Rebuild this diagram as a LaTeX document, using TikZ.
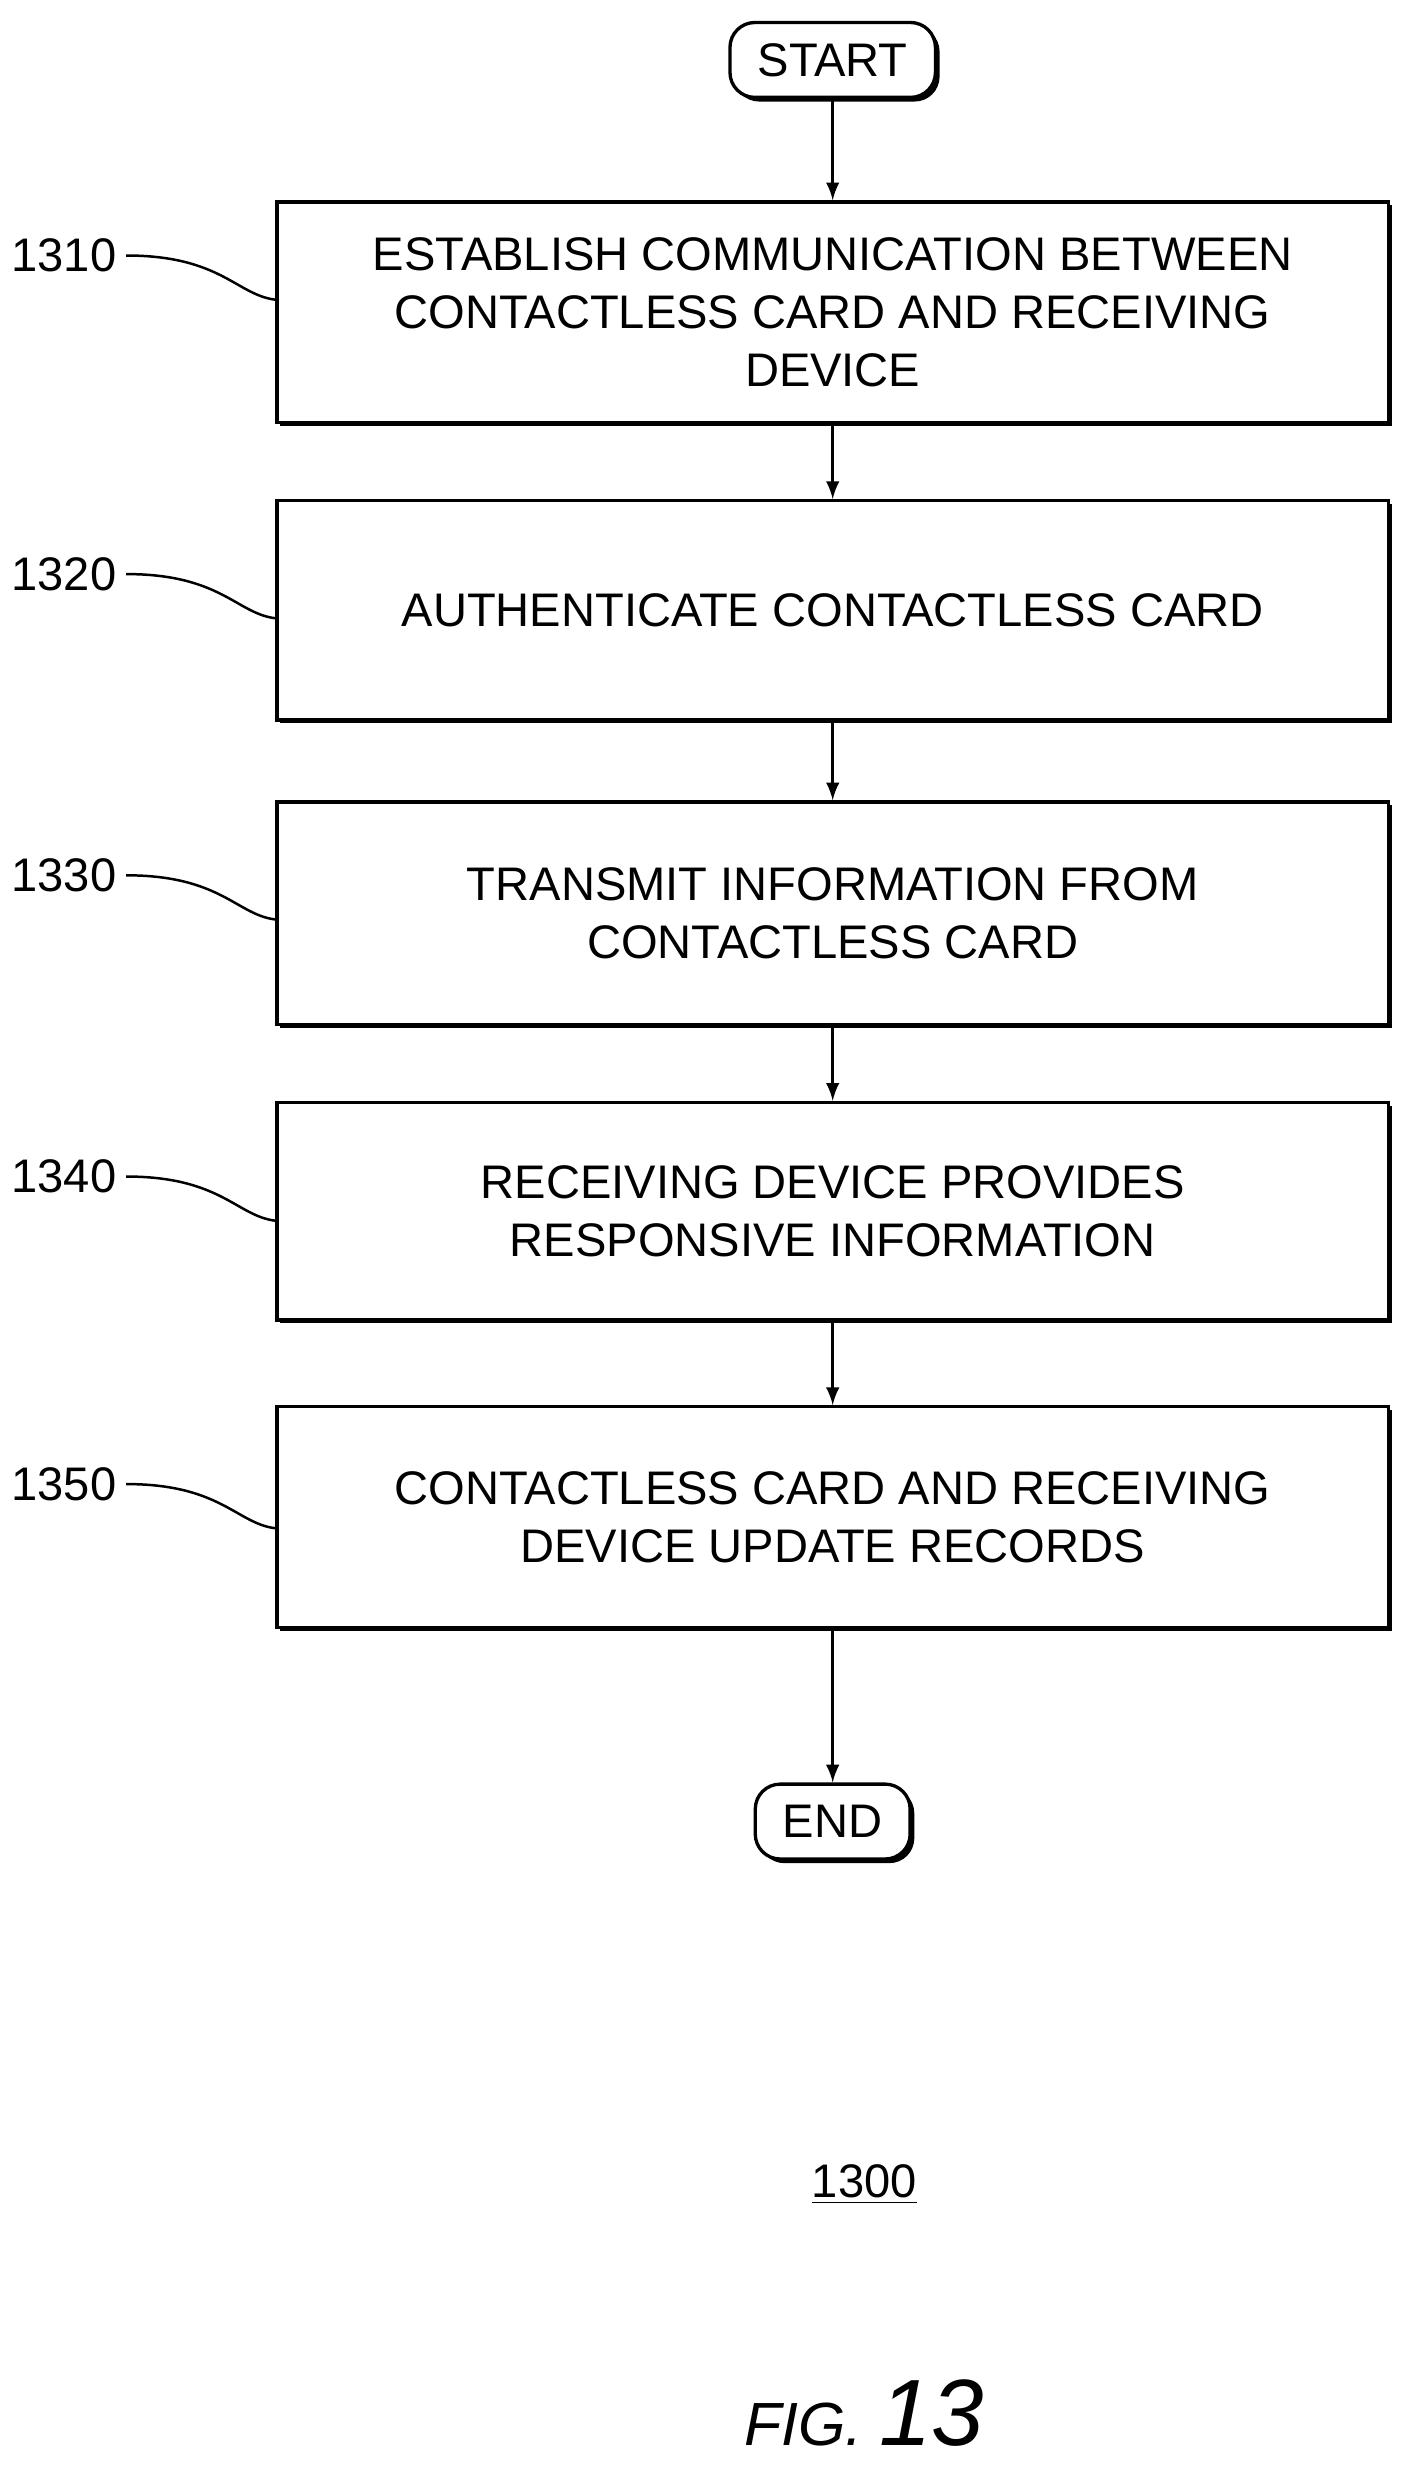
\documentclass[tikz,border=0pt]{standalone}
\usepackage{fontspec}
\setmainfont{Liberation Sans}
\usetikzlibrary{shadows}
\begin{document}
\begin{tikzpicture}[x=0.02cm,y=-0.02cm,
    every node/.style={font=\fontsize{17}{21}\selectfont},
    flowbox/.style={draw,line width=1.2pt,minimum width=14.1cm,align=center,
      fill=white,drop shadow={shadow xshift=1.2pt,shadow yshift=-1.2pt,fill=black,opacity=1}},
    term/.style={draw,line width=1.2pt,rounded corners=9pt,fill=white,minimum height=0.95cm,
      inner xsep=10pt,drop shadow={shadow xshift=1.5pt,shadow yshift=-1.5pt,fill=black,opacity=1}},
    ref/.style={anchor=east},
    arr/.style={-latex,line width=1.2pt}]
  \useasboundingbox (0,0) rectangle (893,1563);
  \node[term] (Start) at (528,38) {START};
  \node[flowbox,minimum height=2.8cm] (S1310) at (528,198) {ESTABLISH COMMUNICATION BETWEEN\\CONTACTLESS CARD AND RECEIVING\\DEVICE};
  \node[flowbox,minimum height=2.78cm] (S1320) at (528,387) {AUTHENTICATE CONTACTLESS CARD};
  \node[flowbox,minimum height=2.82cm] (S1330) at (528,579) {TRANSMIT INFORMATION FROM\\CONTACTLESS CARD};
  \node[flowbox,minimum height=2.76cm] (S1340) at (528,768) {RECEIVING DEVICE PROVIDES\\RESPONSIVE INFORMATION};
  \node[flowbox,minimum height=2.8cm] (S1350) at (528,962) {CONTACTLESS CARD AND RECEIVING\\DEVICE UPDATE RECORDS};
  \node[term] (End) at (528,1155) {END};
  % connectors
  \draw[arr] (Start) -- (S1310);
  \draw[arr] (S1310) -- (S1320);
  \draw[arr] (S1320) -- (S1330);
  \draw[arr] (S1330) -- (S1340);
  \draw[arr] (S1340) -- (S1350);
  \draw[arr] (S1350) -- (End);
  % reference numerals
  \foreach \n/\y in {1310/162,1320/364,1330/555,1340/746,1350/941}{
    \node[ref] (L\n) at (80,\y) {\n};
    \draw[line width=0.9pt] (L\n.east) .. controls (140,\y) and (150,\y+25) .. (S\n.west |- 0,\y+28);
  }
  \node (Fig) at (548,1385) {\underline{1300}};
  \node (Caption) at (548,1530) {\fontsize{22}{26}\selectfont\itshape FIG. \fontsize{34}{40}\selectfont 13};
\end{tikzpicture}
\end{document}
